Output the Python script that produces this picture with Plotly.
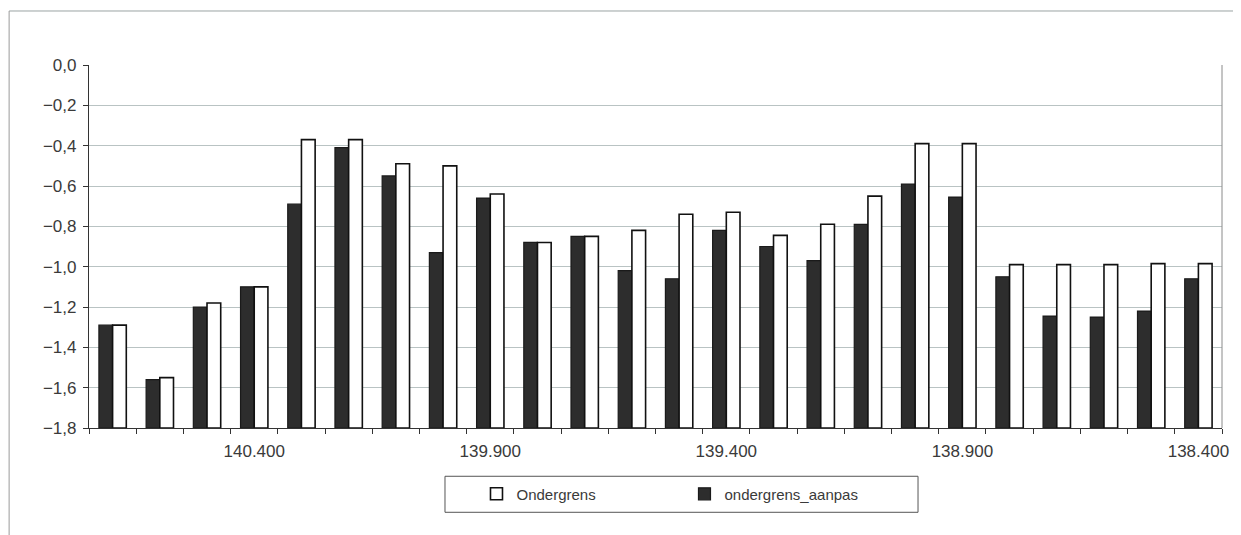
import plotly.graph_objects as go

categories = ["140.700", "140.600", "140.500", "140.400", "140.300", "140.200",
              "140.100", "140.000", "139.900", "139.800", "139.700", "139.600",
              "139.500", "139.400", "139.300", "139.200", "139.100", "139.000",
              "138.900", "138.800", "138.700", "138.600", "138.500", "138.400"]
ondergrens_aanpas = [-1.29, -1.56, -1.20, -1.10, -0.69, -0.41, -0.55, -0.93,
                     -0.66, -0.88, -0.85, -1.02, -1.06, -0.82, -0.90, -0.97,
                     -0.79, -0.59, -0.655, -1.05, -1.245, -1.25, -1.22, -1.06]
ondergrens = [-1.29, -1.55, -1.18, -1.10, -0.37, -0.37, -0.49, -0.50,
              -0.64, -0.88, -0.85, -0.82, -0.74, -0.73, -0.845, -0.79,
              -0.65, -0.39, -0.39, -0.99, -0.99, -0.99, -0.985, -0.985]
shown_labels = ["140.400", "139.900", "139.400", "138.900", "138.400"]
y_ticks = [0.0, -0.2, -0.4, -0.6, -0.8, -1.0, -1.2, -1.4, -1.6, -1.8]
axis_min = -1.8

xpos = list(range(len(categories)))
base = [axis_min] * len(categories)

fig = go.Figure()
fig.add_trace(go.Bar(
    x=xpos, y=[v - axis_min for v in ondergrens_aanpas], base=base,
    name="ondergrens_aanpas", legendrank=2,
    marker=dict(color="#2d2d2d", line=dict(color="#1a1a1a", width=1.2)),
))
fig.add_trace(go.Bar(
    x=xpos, y=[v - axis_min for v in ondergrens], base=base,
    name="Ondergrens", legendrank=1,
    marker=dict(color="#ffffff", line=dict(color="#111111", width=1.6)),
))

font_family = "Liberation Sans, Arial, sans-serif"
text_color = "#3a3a3a"

fig.update_layout(
    width=1233, height=527,
    margin=dict(l=81, r=19, t=57, b=107),
    paper_bgcolor="white", plot_bgcolor="white",
    barmode="group", bargap=0.42, bargroupgap=0.0,
    separators=",.",
    font=dict(family=font_family, size=17, color=text_color),
    showlegend=True,
    legend=dict(
        orientation="h", x=0.342, xanchor="left", y=-0.182, yanchor="middle",
        bgcolor="rgba(0,0,0,0)", borderwidth=0,
        entrywidth=163, entrywidthmode="pixels",
        font=dict(family=font_family, size=15, color=text_color),
        traceorder="normal",
    ),
    xaxis=dict(
        range=[-0.5, len(categories) - 0.5],
        tickmode="array",
        tickvals=[categories.index(c) for c in shown_labels],
        ticktext=shown_labels,
        ticks="", showgrid=False, zeroline=False,
        showline=True, linecolor="#333333", linewidth=1.2,
        tickfont=dict(size=17, color=text_color),
        ticklabelstandoff=7,
        minor=dict(tick0=-0.5, dtick=1, ticks="outside", ticklen=5,
                   tickcolor="#333333", tickwidth=1, showgrid=False),
    ),
    yaxis=dict(
        range=[axis_min, 0.0],
        tickmode="array", tickvals=y_ticks, tickformat=".1f",
        ticks="outside", ticklen=5, tickcolor="#333333",
        showgrid=True, gridcolor="#b9c3c3", gridwidth=1,
        zeroline=False,
        showline=True, linecolor="#333333", linewidth=1.2,
        tickfont=dict(size=17, color=text_color),
        ticklabelstandoff=3,
    ),
    shapes=[
        dict(type="line", xref="paper", yref="paper", x0=1, x1=1, y0=0, y1=1,
             line=dict(color="#8a8a8a", width=1)),
        dict(type="rect", xref="paper", yref="paper",
             x0=0.3142, x1=0.7317, y0=-0.2322, y1=-0.133,
             line=dict(color="#555555", width=1), fillcolor="rgba(0,0,0,0)"),
        dict(type="line", xref="paper", yref="paper",
             x0=-0.0705, x1=1.02, y0=1.1488, y1=1.1488,
             line=dict(color="#9aa3a3", width=1)),
        dict(type="line", xref="paper", yref="paper",
             x0=-0.0705, x1=-0.0705, y0=1.1488, y1=-0.3,
             line=dict(color="#9a9a9a", width=1)),
    ],
)

fig.write_html("out.html")
